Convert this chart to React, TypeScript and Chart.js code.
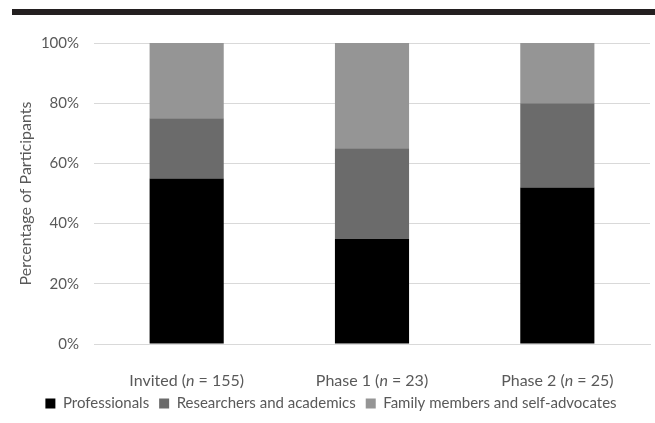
import React, { useEffect, useRef } from "react";
import { Chart, registerables } from "chart.js";

Chart.register(...registerables);

const categories = ["Invited", "Phase 1", "Phase 2"];
const sampleSizes = ["155", "23", "25"];
const professionals = [55, 35, 52];
const researchers = [20, 30, 28];
const families = [25, 35, 20];
const yTicks = [0, 20, 40, 60, 80, 100];

const FONT = "Lato";
const TEXT = "#595959";

const xLabelPlugin = {
  id: "xLabels",
  afterDraw(chart: any) {
    const ctx = chart.ctx;
    const xs = chart.scales.x;
    const y = chart.chartArea.bottom + 37;
    ctx.save();
    ctx.fillStyle = TEXT;
    ctx.textBaseline = "middle";
    ctx.textAlign = "left";
    categories.forEach((c, i) => {
      const parts = [
        { t: c + " (", f: `16px ${FONT}` },
        { t: "n", f: `italic 16px ${FONT}` },
        { t: " = " + sampleSizes[i] + ")", f: `16px ${FONT}` },
      ];
      let w = 0;
      parts.forEach((p) => {
        ctx.font = p.f;
        w += ctx.measureText(p.t).width;
      });
      let x = xs.getPixelForValue(i) - w / 2;
      parts.forEach((p) => {
        ctx.font = p.f;
        ctx.fillText(p.t, x, y);
        x += ctx.measureText(p.t).width;
      });
    });
    ctx.restore();
  },
};

export default function App() {
  const ref = useRef<HTMLCanvasElement>(null);
  useEffect(() => {
    if (!ref.current) return;
    const chart = new Chart(ref.current, {
      type: "bar",
      data: {
        labels: categories,
        datasets: [
          { label: "Professionals", data: professionals, backgroundColor: "#000000" },
          { label: "Researchers and academics", data: researchers, backgroundColor: "#6b6b6b" },
          { label: "Family members and self-advocates", data: families, backgroundColor: "#959595" },
        ],
      },
      options: {
        animation: false,
        responsive: false,
        maintainAspectRatio: false,
        datasets: { bar: { categoryPercentage: 1, barPercentage: 0.4 } },
        layout: { padding: { top: 43, right: 5, left: 12, bottom: 2 } },
        plugins: {
          tooltip: { enabled: false },
          legend: {
            position: "bottom",
            labels: {
              boxWidth: 10,
              boxHeight: 10,
              padding: 10,
              color: TEXT,
              font: { family: FONT, size: 15 },
            },
          },
        },
        scales: {
          x: {
            stacked: true,
            grid: { display: false, drawTicks: false },
            border: { color: "#d9d9d9" },
            ticks: { display: false },
            afterFit(scale: any) {
              scale.height = 42;
            },
          },
          y: {
            stacked: true,
            min: 0,
            max: 100,
            afterBuildTicks(scale: any) {
              scale.ticks = yTicks.map((v) => ({ value: v }));
            },
            grid: { color: "#d9d9d9", drawTicks: false },
            border: { display: false },
            ticks: {
              color: TEXT,
              font: { family: FONT, size: 15 },
              padding: 15,
              callback: (v: any) => v + "%",
            },
            title: {
              display: true,
              text: "Percentage of Participants",
              color: TEXT,
              font: { family: FONT, size: 16 },
              padding: { top: 4, bottom: 0 },
            },
            afterFit(scale: any) {
              scale.width = 82;
            },
          },
        },
      },
      plugins: [xLabelPlugin],
    });
    return () => chart.destroy();
  }, []);
  return (
    <div style={{ position: "fixed", left: 0, top: 0, width: 655, height: 423, background: "#fff" }}>
      <div style={{ position: "absolute", left: 12, top: 9, width: 643, height: 6, background: "#231f20" }} />
      <canvas ref={ref} width={655} height={423} style={{ position: "absolute", left: 0, top: 0 }} />
    </div>
  );
}
